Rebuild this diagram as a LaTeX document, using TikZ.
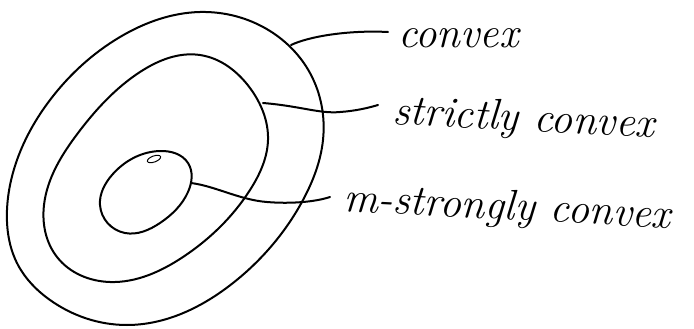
\documentclass[tikz,border=0pt]{standalone}
\usetikzlibrary{hobby}
\begin{document}
\begin{tikzpicture}[x=1pt,y=-1pt,
  curve/.style={line width=2pt,line cap=round,line join=round},
  thin curve/.style={line width=1pt,line cap=round},
  lbl/.style={font=\fontsize{43}{48}\selectfont\itshape,inner sep=0pt,anchor=base west}]
\useasboundingbox (0,0) rectangle (694,329);
% outer: convex
\draw[curve,use Hobby shortcut,closed=true]
  (200,12) .. (270,31) .. (310,73) .. (323,140) .. (303,200) .. (233,283)
  .. (127,325) .. (50,300) .. (18,265) .. (7,210) .. (17,160) .. (50,100) .. (120,37);
% middle: strictly convex
\draw[curve,use Hobby shortcut,closed=true]
  (200,55) .. (250,88) .. (268,140) .. (250,190) .. (183,257) .. (110,282)
  .. (57,257) .. (44,205) .. (78,133) .. (140,72);
% inner: m-strongly convex
\draw[curve,use Hobby shortcut,closed=true]
  (160,151) .. (188,163) .. (188,192) .. (160,223) .. (125,233)
  .. (100,205) .. (112,175);
\draw[thin curve,rotate around={20:(154,159)}] (154,159) ellipse [x radius=7, y radius=3];
% labels
\node[lbl] (lc) at (398,48) {convex};
\node[lbl,rotate=-3] (ls) at (392,124) {strictly convex};
\node[lbl,rotate=-3] (lm) at (343,211) {m-strongly convex};
% connector start points
\coordinate (oc) at (291,45);
\coordinate (sc) at (263,103);
\coordinate (mc) at (191,183);
\coordinate (ec) at (388,32);
\coordinate (es) at (378,105);
\coordinate (em) at (330,197);
\draw[curve] (oc) .. controls (310,36) and (350,30) .. (ec);
\draw[curve] (sc) .. controls (300,106) and (320,114) .. (340,112) .. controls (355,111) and (368,108) .. (es);
\draw[curve] (mc) .. controls (215,186) and (240,200) .. (267,202) .. controls (290,204) and (315,202) .. (em);
\end{tikzpicture}
\end{document}
